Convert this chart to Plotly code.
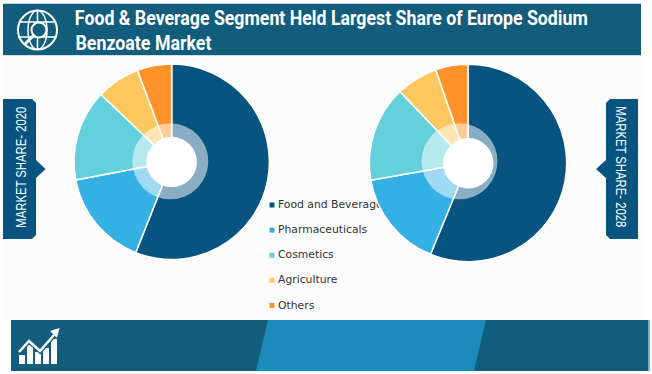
import plotly.graph_objects as go

W, H = 652, 374

categories = ["Food and Beverage", "Pharmaceuticals", "Cosmetics", "Agriculture", "Others"]
share_2020 = [56.0, 16.0, 15.1, 7.2, 5.7]
share_2028 = [56.2, 16.0, 15.7, 6.8, 5.3]
colors = ["#06547F", "#33B0E4", "#64D0DB", "#FFC75F", "#FF922B"]
title_lines = ["Food &amp; Beverage Segment Held Largest Share of Europe Sodium", "Benzoate Market"]
tag_2020 = "MARKET SHARE- 2020"
tag_2028 = "MARKET SHARE- 2028"

DARK = "#125D7B"
MID = "#1A8BBB"
NAVY = "#06547F"
BG = "#FBFBFB"
FONT = "DejaVu Sans"


def rect(x0, y0, x1, y1, color):
    return dict(type="rect", xref="x", yref="y", x0=x0, y0=y0, x1=x1, y1=y1,
                fillcolor=color, line=dict(width=0), layer="below")


def path(d, fill=None, line=None, width=0, layer="below"):
    return dict(type="path", xref="x", yref="y", path=d, layer=layer,
                fillcolor=fill if fill else "rgba(0,0,0,0)",
                line=dict(color=line if line else "rgba(0,0,0,0)", width=width))


def circle(cx, cy, r, fill=None, line=None, width=0, layer="below"):
    return dict(type="circle", xref="x", yref="y", x0=cx - r, x1=cx + r, y0=cy - r, y1=cy + r, layer=layer,
                fillcolor=fill if fill else "rgba(0,0,0,0)",
                line=dict(color=line if line else "rgba(0,0,0,0)", width=width))


def pie(values, cx, cy, r, name):
    return go.Pie(labels=categories, values=values, name=name, sort=False, direction="clockwise", rotation=0,
                  hole=0, textinfo="none", hoverinfo="label+percent", showlegend=False,
                  marker=dict(colors=colors, line=dict(color="#FFFFFF", width=1.5)),
                  domain=dict(x=[(cx - r) / W, (cx + r) / W], y=[1 - (cy + r) / H, 1 - (cy - r) / H]))


left_tag = "M7,99 L32,99 L36,103 L36,160 L45.5,169 L36,178 L36,235 L32,239 L3,239 L3,99 Z"
right_tag = "M610,99 L638,99 L638,239 L610,239 L606,235 L606,178 L596,169 L606,160 L606,103 Z"

shapes = [
    rect(3, 55, 641, 320, BG),
    rect(3, 3, 641, 4.5, "#B9D3DC"),
    rect(3, 4, 641, 55, DARK),
    rect(3, 55, 641, 56, "#CFE0E6"),
    rect(11, 320, 648, 371, DARK),
    rect(648, 320, 650, 371, "#7FB0C4"),
    path("M268,320 L486,320 L474,371 L256,371 Z", MID),
    path(left_tag, NAVY),
    path(right_tag, NAVY),
    # globe icon
    circle(37.5, 30, 19.5, line="#FFFFFF", width=2),
    dict(type="circle", xref="x", yref="y", x0=28, x1=47, y0=10.5, y1=49.5, layer="below",
         line=dict(color="#FFFFFF", width=1.5), fillcolor="rgba(0,0,0,0)"),
    path("M37.5,10.5 L37.5,49.5", line="#FFFFFF", width=1.5),
    path("M20,22 L55,22 M18,37 L57,37", line="#FFFFFF", width=1.5),
    circle(39, 30, 7.5, fill=DARK, line="#FFFFFF", width=2),
    path("M33.5,35.5 L25,44", line="#FFFFFF", width=3),
    # growth icon
    rect(19, 355, 25, 364, "#FFFFFF"),
    rect(27, 345, 33, 364, "#FFFFFF"),
    rect(35, 352, 41, 364, "#FFFFFF"),
    rect(43, 348, 49, 364, "#FFFFFF"),
    rect(51, 339, 57, 364, "#FFFFFF"),
    path("M19,352 L29,341 L40,351 L54,335", line=DARK, width=5),
    path("M19,352 L29,341 L40,351 L54,335", line="#FFFFFF", width=2.5),
    path("M50,331 L59.5,328 L57,338 Z", "#FFFFFF"),
    # translucent rings and hubs, drawn over the pies
    circle(170.3, 161.3, 38, fill="rgba(255,255,255,0.53)", layer="above"),
    circle(171.7, 162, 25.2, fill="#FFFFFF", layer="above"),
    circle(459.5, 161.3, 38, fill="rgba(255,255,255,0.53)", layer="above"),
    circle(468.3, 163.3, 25.2, fill="#FFFFFF", layer="above"),
]

LEGEND_X = 272
LEGEND_Y0 = 205
LEGEND_STEP = 25.1
legend_ys = [LEGEND_Y0 + i * LEGEND_STEP for i in range(len(categories))]
legend_marks = go.Scatter(x=[LEGEND_X] * len(categories), y=legend_ys, mode="markers",
                          marker=dict(symbol="square", size=5, color=colors),
                          hoverinfo="skip", showlegend=False, cliponaxis=False)
legend_text = go.Scatter(x=[LEGEND_X + 6] * len(categories), y=[y + 0.5 for y in legend_ys], mode="text",
                         text=categories, textposition="middle right",
                         textfont=dict(family=FONT, size=10.8, color="#333333"),
                         hoverinfo="skip", showlegend=False, cliponaxis=False)

annotations = [
    dict(text="<b>" + title_lines[0] + "</b>", x=331, y=17.5, xref="x", yref="y", xanchor="center", yanchor="middle",
         showarrow=False, font=dict(family="Roboto", size=20, color="#FFFFFF")),
    dict(text="<b>" + title_lines[1] + "</b>", x=143, y=43, xref="x", yref="y", xanchor="center", yanchor="middle",
         showarrow=False, font=dict(family="Roboto", size=20, color="#FFFFFF")),
    dict(text=tag_2020, x=20, y=167.5, xref="x", yref="y", textangle=-90, showarrow=False,
         font=dict(family="Liberation Sans", size=15, color="#FFFFFF")),
    dict(text=tag_2028, x=621.5, y=167, xref="x", yref="y", textangle=90, showarrow=False,
         font=dict(family="Liberation Sans", size=15, color="#FFFFFF")),
]

fig = go.Figure([legend_marks, legend_text,
                 pie(share_2020, 171.7, 161.8, 97.7, "2020"),
                 pie(share_2028, 468.0, 163.0, 98.7, "2028")])
fig.update_layout(
    width=W, height=H, margin=dict(l=0, r=0, t=0, b=0), autosize=False,
    paper_bgcolor="#FFFFFF", plot_bgcolor="rgba(0,0,0,0)",
    xaxis=dict(range=[0, W], visible=False, fixedrange=True),
    yaxis=dict(range=[H, 0], visible=False, fixedrange=True),
    shapes=shapes, annotations=annotations,
)
# The reference lettering is condensed and no narrow face is installed, so squeeze the real text to its measured length.
post = """
document.body.style.margin='0';document.body.style.overflow='hidden';
var lengths={'Food':513,'Benz':136,'MARK':121};
document.querySelectorAll('.annotation-text').forEach(function(t){
  var n=lengths[t.textContent.slice(0,4)];
  if(n){t.setAttribute('textLength',n);t.setAttribute('lengthAdjust','spacingAndGlyphs');}
});
"""
fig.write_html("out.html", post_script=post, config={"displayModeBar": False})
